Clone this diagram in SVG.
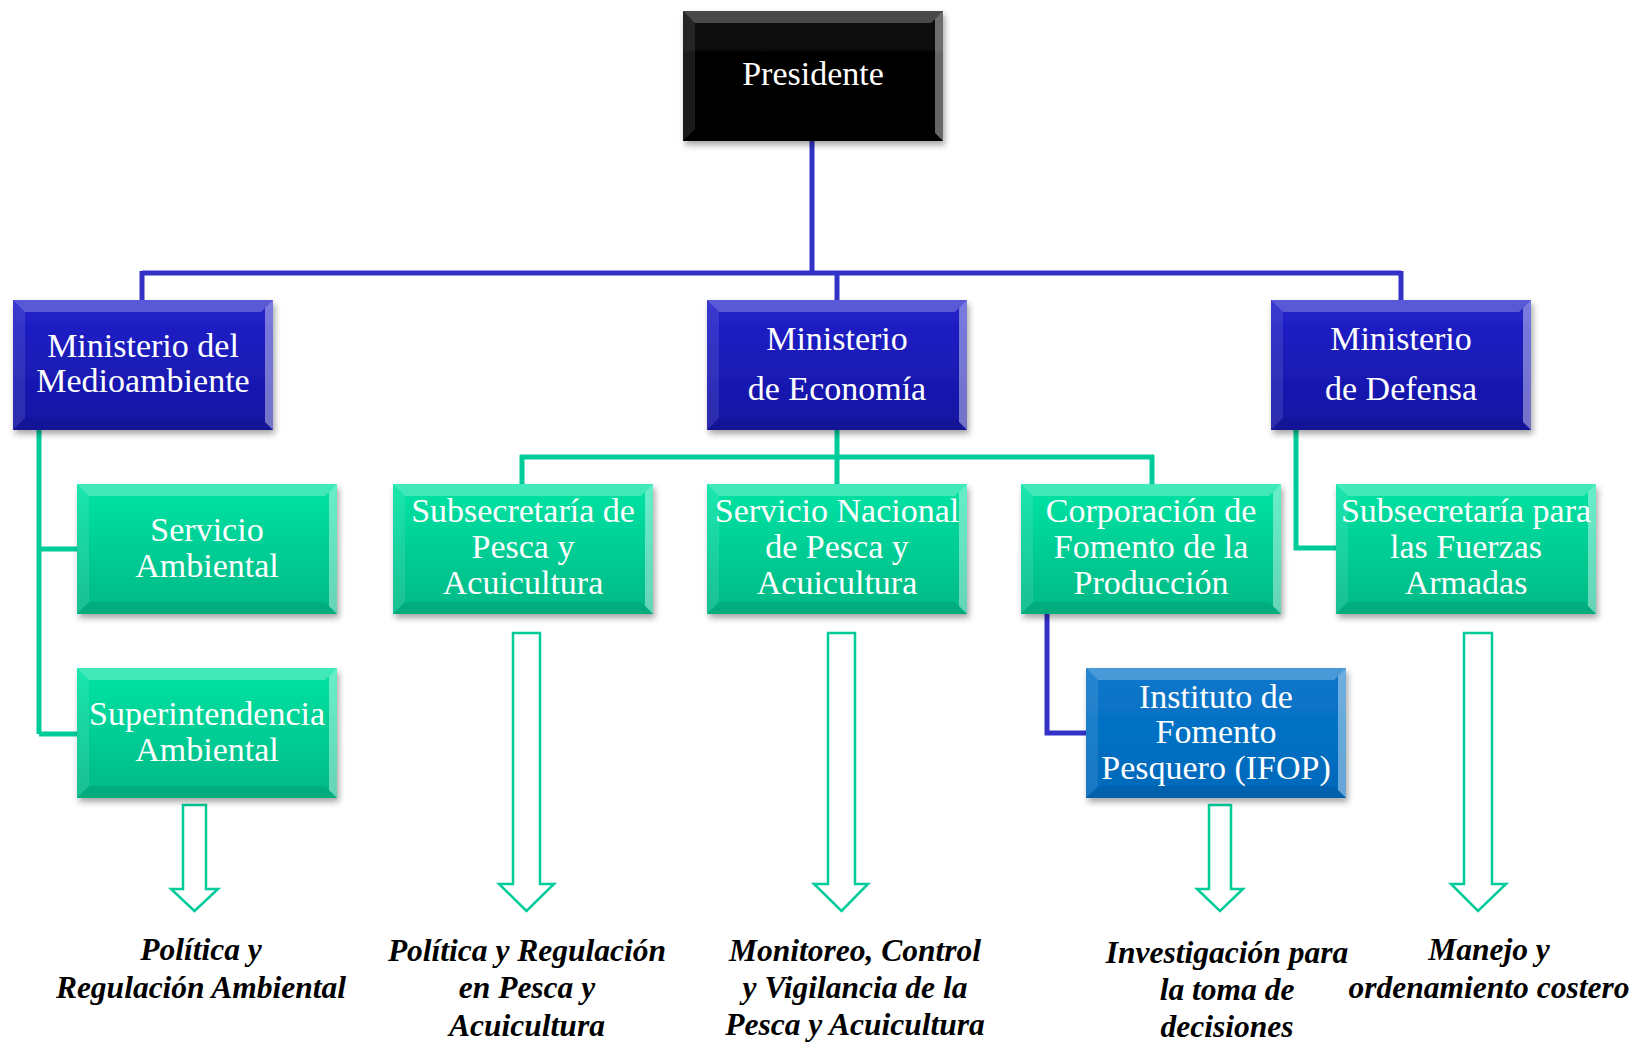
<svg xmlns="http://www.w3.org/2000/svg" xmlns:xlink="http://www.w3.org/1999/xlink" width="1635" height="1043" viewBox="0 0 1635 1043">
<style>
.t{font-family:"Liberation Serif","Times New Roman",serif;font-size:34px;fill:#ffffff;text-anchor:middle}
.l{font-family:"Liberation Serif","Times New Roman",serif;font-size:31.5px;font-weight:bold;font-style:italic;fill:#000000;text-anchor:middle}
.cb{fill:none;stroke:#3232c8;stroke-width:5}
.cg{fill:none;stroke:#00cc99;stroke-width:5}
.ar{fill:#ffffff;stroke:#00cc99;stroke-width:2.5;stroke-linejoin:miter}
</style>
<defs>
<linearGradient id="gk" x1="0" y1="0" x2="0" y2="1"><stop offset="0" stop-color="#111"/><stop offset="0.5" stop-color="#000"/><stop offset="1" stop-color="#000"/></linearGradient>
<linearGradient id="gb" x1="0" y1="0" x2="0" y2="1"><stop offset="0" stop-color="#2222cc"/><stop offset="1" stop-color="#1414a2"/></linearGradient>
<linearGradient id="gg" x1="0" y1="0" x2="0" y2="1"><stop offset="0" stop-color="#00e4a4"/><stop offset="1" stop-color="#00b886"/></linearGradient>
<linearGradient id="gi" x1="0" y1="0" x2="0" y2="1"><stop offset="0" stop-color="#0a78cc"/><stop offset="1" stop-color="#0068ba"/></linearGradient>
<filter id="sh" x="-10%" y="-10%" width="125%" height="130%"><feDropShadow dx="2" dy="4" stdDeviation="3" flood-color="#000" flood-opacity="0.35"/></filter>
<symbol id="bev" viewBox="0 0 260 130" width="260" height="130">
<polygon points="0,0 260,0 248,12 12,12" fill="#ffffff" fill-opacity="0.25"/>
<polygon points="0,0 12,12 12,118 0,130" fill="#ffffff" fill-opacity="0.1"/>
<polygon points="260,0 260,130 252,122 252,8" fill="#ffffff" fill-opacity="0.4"/>
<polygon points="0,130 260,130 248,118 12,118" fill="#000000" fill-opacity="0.07"/>
</symbol>
</defs>
<rect width="1635" height="1043" fill="#ffffff"/>
<g id="connectors">
<path class="cb" d="M812 140V273M142 273H1401M142 271V300M837 273V300M1401 271V300"/>
<path class="cb" d="M1047 614V733H1086"/>
<path class="cg" d="M39 430V734M39 549H77M39 734H77"/>
<path class="cg" d="M837 430V484M520 457H1154M522 455V484M1152 455V484"/>
<path class="cg" d="M1296 430V548H1336"/>
<polygon class="ar" points="183,805 206,805 206,889 218,889 194.5,911 171,889 183,889"/>
<polygon class="ar" points="513,633 540,633 540,884 554,884 526.5,911 499,884 513,884"/>
<polygon class="ar" points="828,633 855,633 855,884 868,884 841.5,911 814,884 828,884"/>
<polygon class="ar" points="1209,805 1231,805 1231,889 1243,889 1220,911 1197,889 1209,889"/>
<polygon class="ar" points="1464,633 1492,633 1492,884 1506,884 1478,911 1451,884 1464,884"/>
</g>
<g id="presidente"><rect x="683" y="11" width="260" height="130" fill="url(#gk)" filter="url(#sh)"/><use xlink:href="#bev" x="683" y="11"/><text class="t" x="813" y="85">Presidente</text></g>
<g id="min-medioambiente"><rect x="13" y="300" width="260" height="130" fill="url(#gb)" filter="url(#sh)"/><use xlink:href="#bev" x="13" y="300"/><text class="t" x="143" y="357">Ministerio del</text><text class="t" x="143" y="392">Medioambiente</text></g>
<g id="min-economia"><rect x="707" y="300" width="260" height="130" fill="url(#gb)" filter="url(#sh)"/><use xlink:href="#bev" x="707" y="300"/><text class="t" x="837" y="350">Ministerio</text><text class="t" x="837" y="400">de Economía</text></g>
<g id="min-defensa"><rect x="1271" y="300" width="260" height="130" fill="url(#gb)" filter="url(#sh)"/><use xlink:href="#bev" x="1271" y="300"/><text class="t" x="1401" y="350">Ministerio</text><text class="t" x="1401" y="400">de Defensa</text></g>
<g id="servicio-ambiental"><rect x="77" y="484" width="260" height="130" fill="url(#gg)" filter="url(#sh)"/><use xlink:href="#bev" x="77" y="484"/><text class="t" x="207" y="541">Servicio</text><text class="t" x="207" y="577">Ambiental</text></g>
<g id="superintendencia"><rect x="77" y="668" width="260" height="130" fill="url(#gg)" filter="url(#sh)"/><use xlink:href="#bev" x="77" y="668"/><text class="t" x="207" y="725">Superintendencia</text><text class="t" x="207" y="761">Ambiental</text></g>
<g id="subpesca"><rect x="393" y="484" width="260" height="130" fill="url(#gg)" filter="url(#sh)"/><use xlink:href="#bev" x="393" y="484"/><text class="t" x="523" y="522">Subsecretaría de</text><text class="t" x="523" y="558">Pesca y</text><text class="t" x="523" y="594">Acuicultura</text></g>
<g id="sernapesca"><rect x="707" y="484" width="260" height="130" fill="url(#gg)" filter="url(#sh)"/><use xlink:href="#bev" x="707" y="484"/><text class="t" x="837" y="522">Servicio Nacional</text><text class="t" x="837" y="558">de Pesca y</text><text class="t" x="837" y="594">Acuicultura</text></g>
<g id="corfo"><rect x="1021" y="484" width="260" height="130" fill="url(#gg)" filter="url(#sh)"/><use xlink:href="#bev" x="1021" y="484"/><text class="t" x="1151" y="522">Corporación de</text><text class="t" x="1151" y="558">Fomento de la</text><text class="t" x="1151" y="594">Producción</text></g>
<g id="subffaa"><rect x="1336" y="484" width="260" height="130" fill="url(#gg)" filter="url(#sh)"/><use xlink:href="#bev" x="1336" y="484"/><text class="t" x="1466" y="522">Subsecretaría para</text><text class="t" x="1466" y="558">las Fuerzas</text><text class="t" x="1466" y="594">Armadas</text></g>
<g id="ifop"><rect x="1086" y="668" width="260" height="130" fill="url(#gi)" filter="url(#sh)"/><use xlink:href="#bev" x="1086" y="668"/><text class="t" x="1216" y="708">Instituto de</text><text class="t" x="1216" y="743">Fomento</text><text class="t" x="1216" y="779">Pesquero (IFOP)</text></g>
<g id="labels">
<text class="l" x="201" y="960">Política y</text><text class="l" x="201" y="998">Regulación Ambiental</text>
<text class="l" x="527" y="961">Política y Regulación</text><text class="l" x="527" y="998">en Pesca y</text><text class="l" x="527" y="1036">Acuicultura</text>
<text class="l" x="855" y="961">Monitoreo, Control</text><text class="l" x="855" y="998">y Vigilancia de la</text><text class="l" x="855" y="1035">Pesca y Acuicultura</text>
<text class="l" x="1227" y="963">Investigación para</text><text class="l" x="1227" y="1000">la toma de</text><text class="l" x="1227" y="1037">decisiones</text>
<text class="l" x="1489" y="960">Manejo y</text><text class="l" x="1489" y="998">ordenamiento costero</text>
</g>
</svg>
